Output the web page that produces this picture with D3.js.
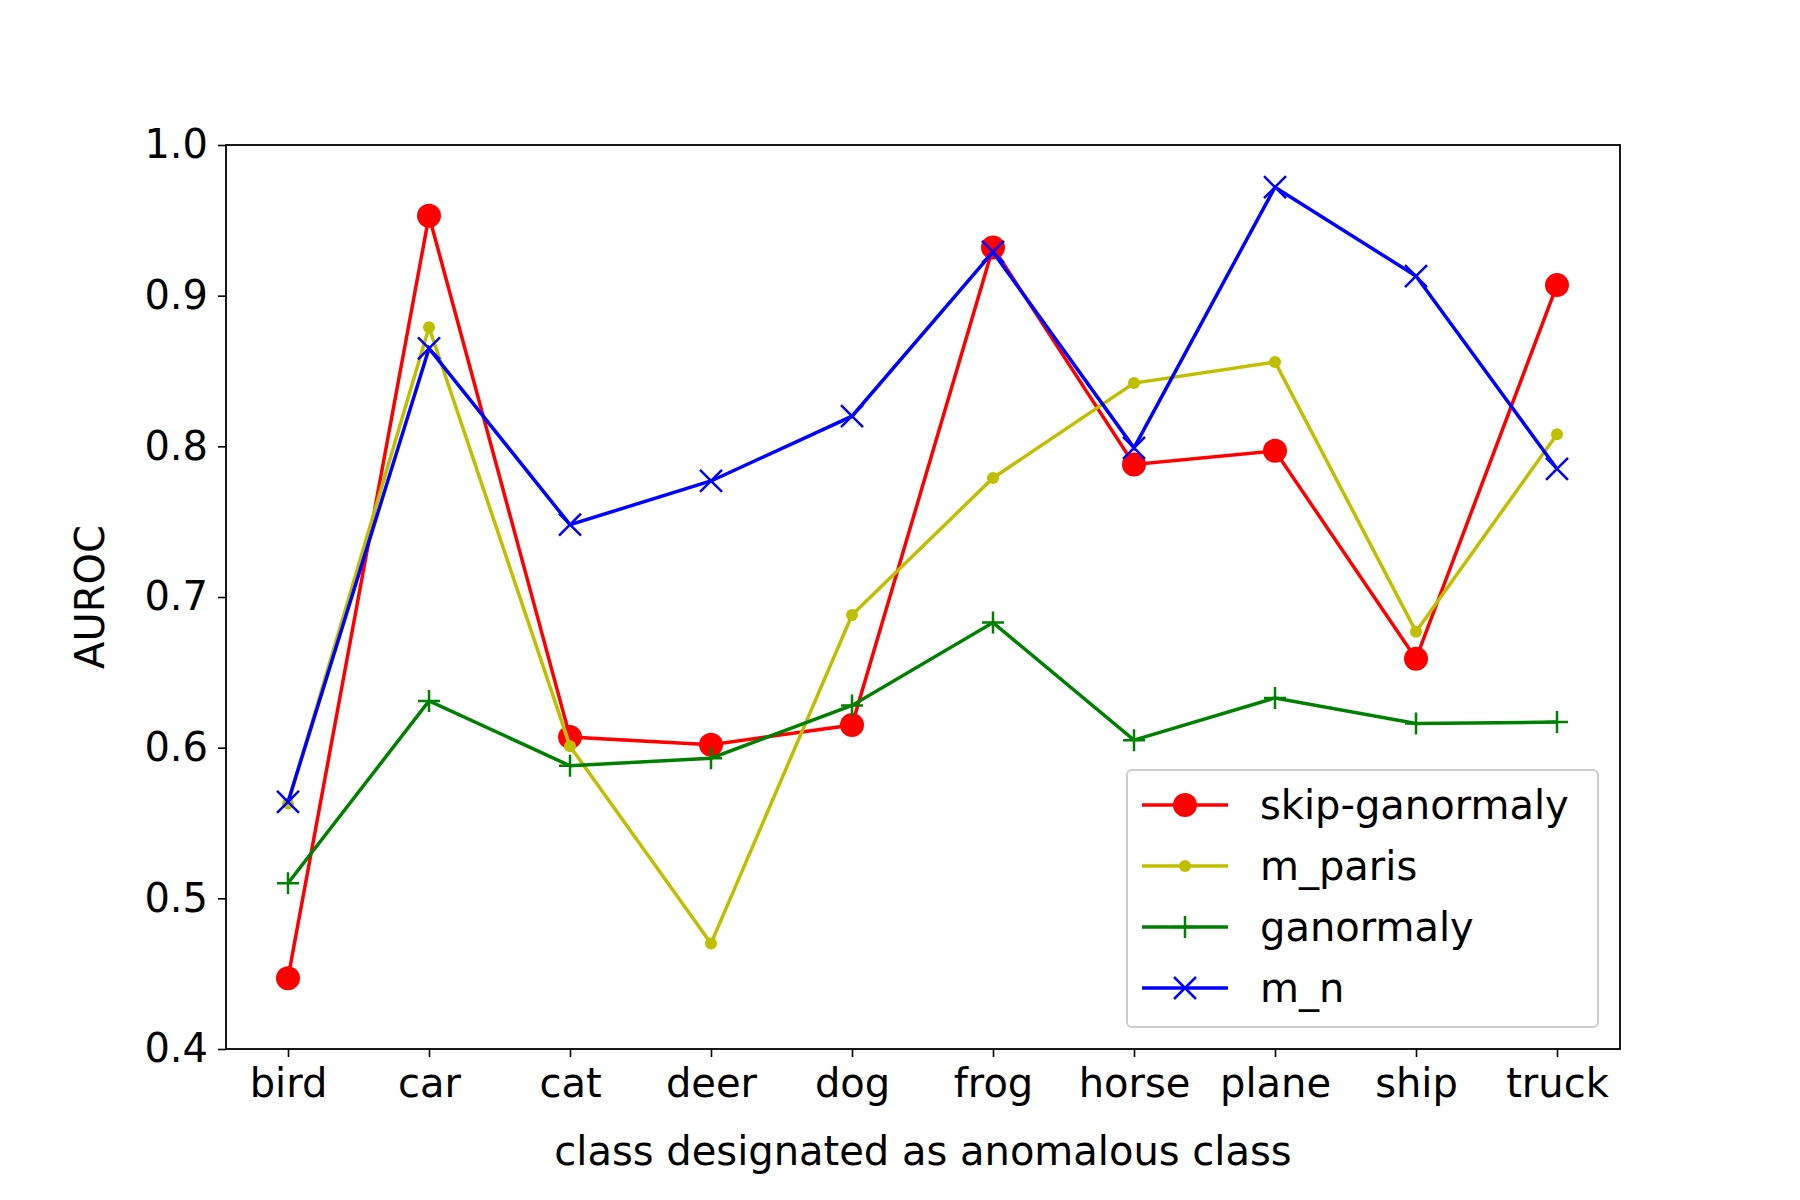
<!DOCTYPE html>
<html><head><meta charset="utf-8">
<script src="https://cdn.jsdelivr.net/npm/d3@7"></script>
<style>body{margin:0;background:#fff}text{font-family:"DejaVu Sans",sans-serif}</style>
</head><body><svg id="c" width="1800" height="1200"></svg>
<script>
const categories=["bird","car","cat","deer","dog","frog","horse","plane","ship","truck"];
const skipGanomaly=[0.447,0.953,0.607,0.602,0.615,0.932,0.788,0.797,0.659,0.907];
const mParis=[0.563,0.879,0.601,0.470,0.688,0.779,0.842,0.856,0.677,0.808];
const ganomaly=[0.510,0.631,0.588,0.593,0.628,0.683,0.605,0.633,0.616,0.617];
const mN=[0.564,0.865,0.748,0.777,0.820,0.929,0.799,0.972,0.913,0.785];
const yTicks=[0.4,0.5,0.6,0.7,0.8,0.9,1.0];
const series=[
 {name:"skip-ganormaly",values:skipGanomaly,color:"#ff0000",marker:"bigcircle"},
 {name:"m_paris",values:mParis,color:"#bfbf00",marker:"dot"},
 {name:"ganormaly",values:ganomaly,color:"#008000",marker:"plus"},
 {name:"m_n",values:mN,color:"#0000ff",marker:"x"}];
const L=226,R=1620,T=145,B=1049;
const svg=d3.select("#c");
const x=d3.scalePoint().domain(categories).range([288,1557]);
const y=d3.scaleLinear().domain([0.4,1.0]).range([B,T]);
const xa=svg.append("g").attr("transform",`translate(0,${B})`).call(d3.axisBottom(x).tickSize(8).tickPadding(12));
const ya=svg.append("g").attr("transform",`translate(${L},0)`).call(d3.axisLeft(y).tickValues(yTicks).tickFormat(d3.format(".1f")).tickSize(8).tickPadding(10));
[xa,ya].forEach(a=>{a.select(".domain").remove();a.selectAll("text").attr("font-size",40).attr("fill","#000");a.selectAll("line").attr("stroke","#000").attr("stroke-width",1.6);});
svg.append("rect").attr("x",L).attr("y",T).attr("width",R-L).attr("height",B-T).attr("fill","none").attr("stroke","#000").attr("stroke-width",1.8);
svg.append("text").attr("x",(L+R)/2).attr("y",1165).attr("text-anchor","middle").attr("font-size",40).text("class designated as anomalous class");
svg.append("text").attr("transform",`translate(104,${(T+B)/2}) rotate(-90)`).attr("text-anchor","middle").attr("font-size",40).text("AUROC");
function marker(g,m,c,cx,cy){
 if(m==="bigcircle")g.append("circle").attr("cx",cx).attr("cy",cy).attr("r",12).attr("fill",c);
 else if(m==="dot")g.append("circle").attr("cx",cx).attr("cy",cy).attr("r",6).attr("fill",c);
 else if(m==="plus")g.append("path").attr("d",`M${cx-11},${cy}H${cx+11}M${cx},${cy-11}V${cy+11}`).attr("stroke",c).attr("stroke-width",2.5);
 else g.append("path").attr("d",`M${cx-11},${cy-11}L${cx+11},${cy+11}M${cx-11},${cy+11}L${cx+11},${cy-11}`).attr("stroke",c).attr("stroke-width",2.5);
}
const line=d3.line().x((d,i)=>x(categories[i])).y(d=>y(d));
series.forEach(s=>{
 const g=svg.append("g");
 g.append("path").attr("d",line(s.values)).attr("fill","none").attr("stroke",s.color).attr("stroke-width",3.5);
 s.values.forEach((v,i)=>marker(g,s.marker,s.color,x(categories[i]),y(v)));
});
svg.append("rect").attr("x",1127).attr("y",770).attr("width",471).attr("height",257).attr("rx",5).attr("fill","#fff").attr("fill-opacity",0.8).attr("stroke","#ccc").attr("stroke-width",2);
series.forEach((s,i)=>{
 const yy=805+i*61, g=svg.append("g");
 g.append("line").attr("x1",1142).attr("x2",1228).attr("y1",yy).attr("y2",yy).attr("stroke",s.color).attr("stroke-width",3.5);
 marker(g,s.marker,s.color,1185,yy);
 g.append("text").attr("x",1260).attr("y",yy+14).attr("font-size",40).text(s.name);
});
</script></body></html>
